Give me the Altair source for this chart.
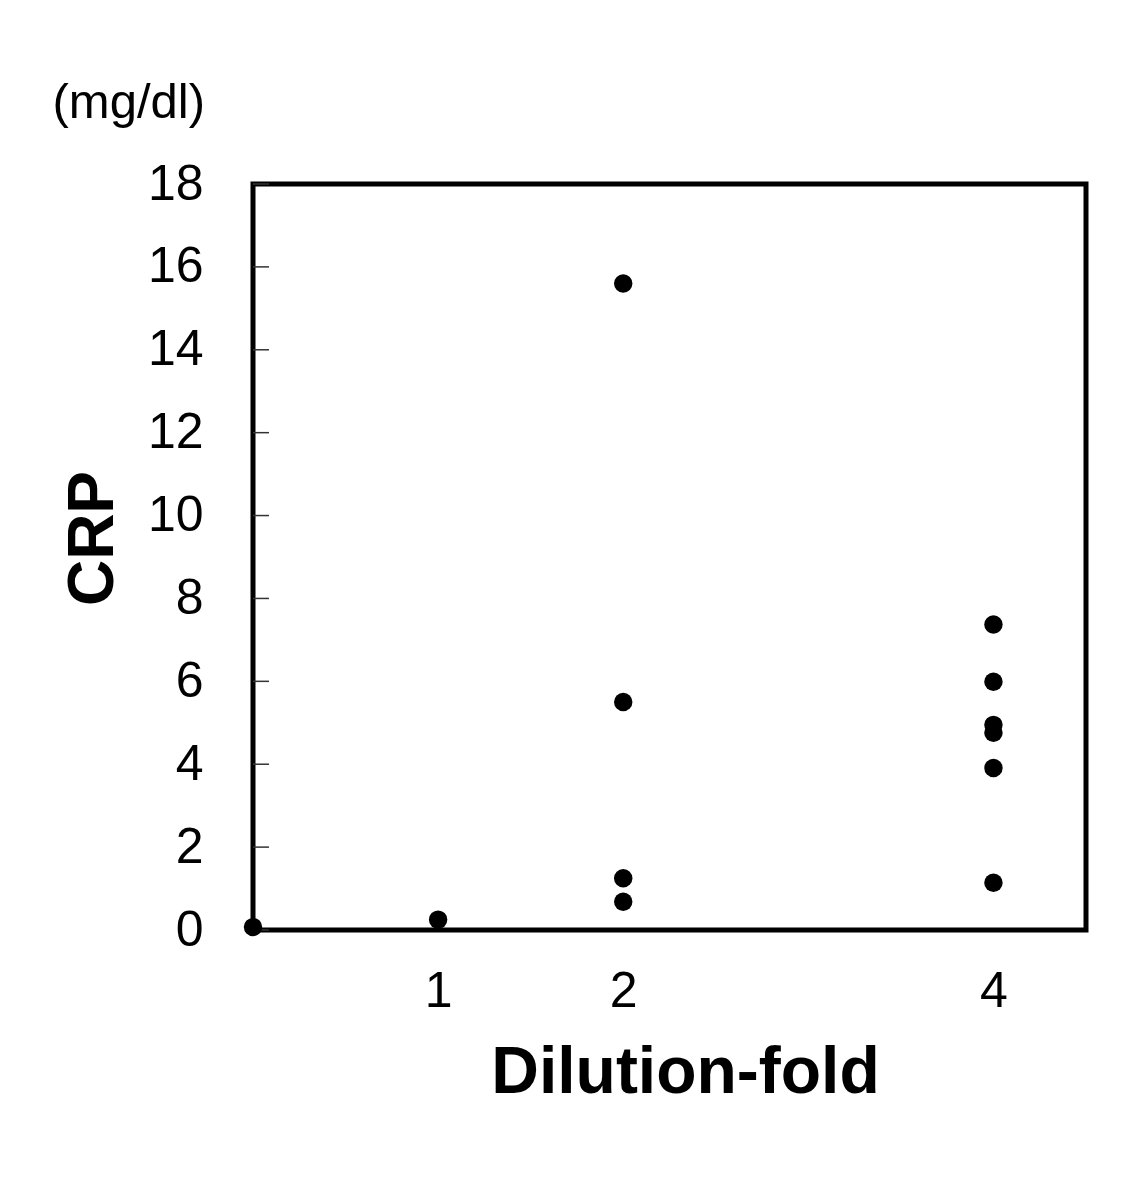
import altair as alt
import pandas as pd

# Data
dilution = [0, 1, 2, 2, 2, 2, 4, 4, 4, 4, 4, 4]
crp = [0.07, 0.25, 15.6, 5.5, 1.25, 0.68, 7.37, 5.99, 4.95, 4.76, 3.91, 1.14]
x_ticks = [1, 2, 4]
y_ticks = [0, 2, 4, 6, 8, 10, 12, 14, 16, 18]

FONT = "Liberation Sans"

df = pd.DataFrame({"dilution": dilution, "crp": crp})
ticks_df = pd.DataFrame({"t": y_ticks})

x_scale = alt.Scale(domain=[0, 4.5], nice=False, zero=False)
y_scale = alt.Scale(domain=[0, 18], nice=False)

points = alt.Chart(df).mark_circle(size=340, color="black", opacity=1).encode(
    x=alt.X(
        "dilution:Q",
        scale=x_scale,
        axis=alt.Axis(
            values=x_ticks,
            title="Dilution-fold",
            titleFont=FONT,
            titleFontSize=66,
            titleFontWeight="bold",
            titleColor="black",
            titleX=432,
            titleY=162,
            titleAlign="center",
            titleBaseline="alphabetic",
            labelFont=FONT,
            labelFontSize=50,
            labelColor="black",
            labelPadding=36,
            ticks=False,
            tickSize=0,
            domain=False,
            grid=False,
            format="d",
        ),
    ),
    y=alt.Y(
        "crp:Q",
        scale=y_scale,
        axis=alt.Axis(
            values=y_ticks,
            title="CRP",
            titleFont=FONT,
            titleFontSize=64,
            titleFontWeight="bold",
            titleColor="black",
            titleAngle=270,
            titleX=-141,
            titleY=354,
            titleAlign="center",
            titleBaseline="alphabetic",
            labelFont=FONT,
            labelFontSize=50,
            labelColor="black",
            labelPadding=50,
            ticks=False,
            tickSize=0,
            domain=False,
            grid=False,
        ),
    ),
)

inner_ticks = alt.Chart(ticks_df).mark_rule(color="#333333", strokeWidth=1.5).encode(
    y=alt.Y("t:Q", scale=y_scale),
    x=alt.value(0),
    x2=alt.value(16),
)

unit = alt.Chart(pd.DataFrame({"u": ["(mg/dl)"]})).mark_text(
    font=FONT, fontSize=49, color="black", align="right", baseline="alphabetic"
).encode(
    text="u:N",
    x=alt.value(-48),
    y=alt.value(-66),
)

chart = (
    alt.layer(inner_ticks, points, unit)
    .properties(
        width=833,
        height=746,
        background="white",
        autosize=alt.AutoSizeParams(type="none"),
        padding={"left": 245, "top": 176, "right": 40, "bottom": 230},
    )
    .configure_view(stroke="black", strokeWidth=5)
)

chart.save("out.html", embed_options={"renderer": "svg", "actions": False})
